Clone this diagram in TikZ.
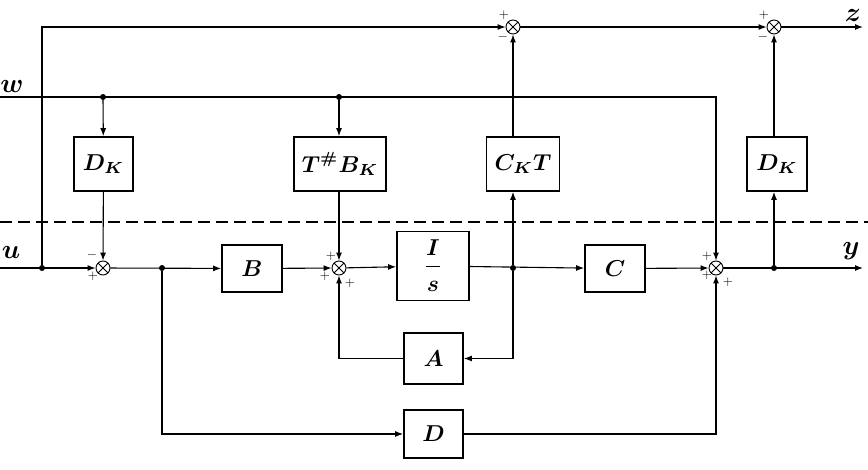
\documentclass[tikz,border=0pt]{standalone}
\usepackage{amsmath,bm}
\usetikzlibrary{arrows.meta}
\newcommand{\bx}[1]{\scalebox{2.3}{$\bm{#1}$}}
\newcommand{\lb}[1]{\scalebox{2.7}{$\bm{#1}$}}
\newcommand{\sgn}[1]{\scalebox{1.3}{$#1$}}
\begin{document}
\begin{tikzpicture}[x=1pt,y=-1pt,
  blk/.style={draw,line width=1.7pt,inner sep=0},
  sumj/.style={draw,circle,minimum size=14pt,inner sep=0,line width=0.9pt,
    path picture={\draw[line width=0.8pt]
      (path picture bounding box.north west)--(path picture bounding box.south east)
      (path picture bounding box.north east)--(path picture bounding box.south west);}},
  dotn/.style={circle,fill,minimum size=6pt,inner sep=0},
  ar/.style={line width=1.1pt,-{Latex[length=8pt,width=6pt]}},
  sg/.style={inner sep=0},
  lab/.style={inner sep=0}]
\useasboundingbox (0,0) rectangle (868,469);

% blocks
\node[blk,minimum width=59pt,minimum height=54pt] (dk1) at (103.5,164) {\bx{D_K}};
\node[blk,minimum width=92pt,minimum height=54pt] (tb) at (340,164) {\bx{T^{\#}B_K}};
\node[blk,minimum width=73pt,minimum height=54pt] (ckt) at (523,164) {\bx{C_KT}};
\node[blk,minimum width=60pt,minimum height=54pt] (dk2) at (777,164) {\bx{D_K}};
\node[blk,minimum width=60pt,minimum height=47pt] (B) at (252,268.5) {\bx{B}};
\node[blk,minimum width=72pt,minimum height=69pt,align=center] (is) at (433,266)
      {\bx{I}\\[-1pt]\rule{14pt}{0.6pt}\\[13pt]\bx{s}};
\node[blk,minimum width=60pt,minimum height=47pt] (C) at (615,268.5) {\bx{C}};
\node[blk,minimum width=59pt,minimum height=51pt] (A) at (433.5,358.5) {\bx{A}};
\node[blk,minimum width=59pt,minimum height=48pt] (D) at (433.5,434) {\bx{D}};

% summing junctions
\node[sumj] (sa) at (103,268) {};
\node[sumj] (sb) at (339,268) {};
\node[sumj] (sc) at (716,268) {};
\node[sumj] (s1) at (513,27) {};
\node[sumj] (s2) at (774,27) {};

% signs
\node[sg] at (92,255) {\sgn{-}};
\node[sg] at (93,276) {\sgn{+}};
\node[sg] at (331,256) {\sgn{+}};
\node[sg] at (325,276) {\sgn{+}};
\node[sg] at (350,283) {\sgn{+}};
\node[sg] at (707,256) {\sgn{+}};
\node[sg] at (707,275) {\sgn{+}};
\node[sg] at (728,282) {\sgn{+}};
\node[sg] at (504,15) {\sgn{+}};
\node[sg] at (503,37) {\sgn{-}};
\node[sg] at (764,15) {\sgn{+}};
\node[sg] at (763,37) {\sgn{-}};

% branch points
\node[dotn] (du) at (42,268) {};
\node[dotn] (dw1) at (103,97) {};
\node[dotn] (dw2) at (339,97) {};
\node[dotn] (dB) at (162,268) {};
\node[dotn] (dc) at (513,268) {};
\node[dotn] (dy) at (774,268) {};

% free ends
\coordinate (ustart) at (0,268);
\coordinate (wstart) at (0,97);
\coordinate (yend) at (863,268);
\coordinate (zend) at (863,27);

% labels
\node[lab] (ul) at (11,252) {\lb{u}};
\node[lab] (wl) at (12,86) {\lb{w}};
\node[lab] (yl) at (851,251) {\lb{y}};
\node[lab] (zl) at (853,15) {\lb{z}};

% dashed separation line
\draw[line width=2.4pt,dash pattern=on 12pt off 6pt] (0,222) -- (868,222);

% connectors
\draw[ar] (ustart) -- (sa);
\draw[ar] (du) |- (s1);
\draw[ar] (s1) -- (s2);
\draw[ar] (s2) -- (zend);
\draw[ar] (wstart) -| (sc);
\draw[ar] (dw1) -- (dk1);
\draw[ar] (dk1) -- (sa);
\draw[ar] (dw2) -- (dw2 |- tb.north);
\draw[ar] (dw2 |- tb.south) -- (sb);
\draw[ar] (sa) -- (B);
\draw[ar] (B) -- (sb);
\draw[ar] (sb) -- (is);
\draw[ar] (is) -- (C);
\draw[ar] (C) -- (sc);
\draw[ar] (sc) -- (yend);
\draw[ar] (dc) -- (dc |- ckt.south);
\draw[ar] (dc |- ckt.north) -- (s1);
\draw[ar] (dy) -- (dy |- dk2.south);
\draw[ar] (dy |- dk2.north) -- (s2);
\draw[ar] (dc) |- (A);
\draw[ar] (A) -| (sb);
\draw[ar] (dB) |- (D);
\draw[ar] (D) -| (sc);
\end{tikzpicture}
\end{document}
